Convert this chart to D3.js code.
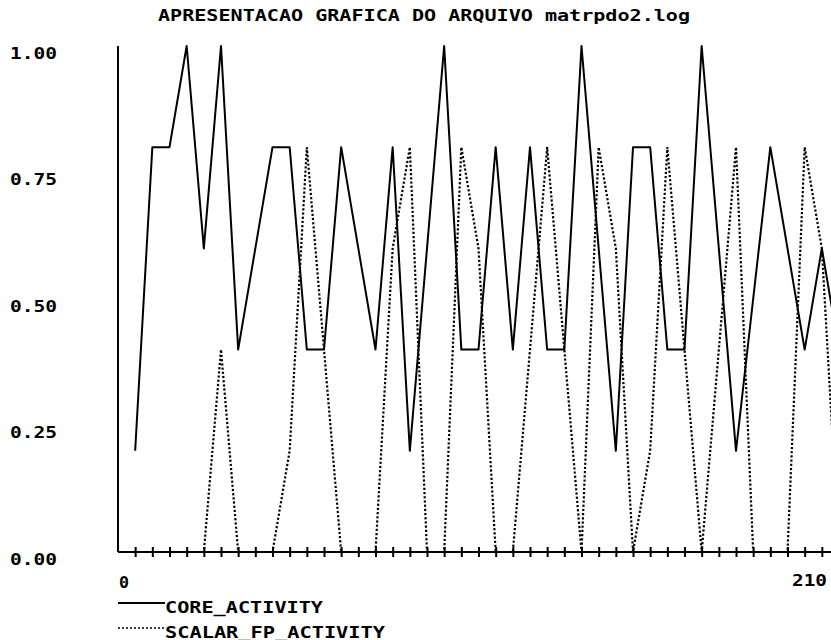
<!DOCTYPE html>
<html lang="pt">
<head>
    <meta charset="UTF-8">
    <title>matrpdo2.log</title>
    <script src="https://d3js.org/d3.v7.min.js"></script>
    <style>
        body { margin: 0; background: #fff; }
        text {
            font-family: "DejaVu Sans Mono", "Liberation Mono", monospace;
            font-weight: bold;
            font-size: 15px;
            fill: #000;
        }
    </style>
</head>
<body>
    <div id="chart"></div>

    <script>
        // sample times (one sample every 5 units)
        var times = [5, 10, 15, 20, 25, 30, 35, 40, 45, 50, 55, 60, 65, 70,
                     75, 80, 85, 90, 95, 100, 105, 110, 115, 120, 125, 130, 135, 140,
                     145, 150, 155, 160, 165, 170, 175, 180, 185, 190, 195, 200, 205, 210];

        var coreActivity = [0.2, 0.8, 0.8, 1.0, 0.6, 1.0, 0.4, 0.6, 0.8, 0.8, 0.4, 0.4, 0.8, 0.6,
                            0.4, 0.8, 0.2, 0.6, 1.0, 0.4, 0.4, 0.8, 0.4, 0.8, 0.4, 0.4, 1.0, 0.6,
                            0.2, 0.8, 0.8, 0.4, 0.4, 1.0, 0.6, 0.2, 0.5, 0.8, 0.6, 0.4, 0.6, 0.4];

        var scalarFpActivity = [0, 0, 0, 0, 0, 0.4, 0, 0, 0, 0.2, 0.8, 0.4, 0, 0,
                                0, 0.6, 0.8, 0, 0, 0.8, 0.6, 0, 0, 0.4, 0.8, 0.4, 0, 0.8,
                                0.6, 0, 0.2, 0.8, 0.4, 0, 0.4, 0.8, 0, 0, 0, 0.8, 0.6, 0];

        var yTicks = [0, 0.25, 0.5, 0.75, 1];
        var yTickLabels = ["0.00", "0.25", "0.50", "0.75", "1.00"];
        var xTickLabels = ["0", "210"];
        var seriesNames = ["CORE_ACTIVITY", "SCALAR_FP_ACTIVITY"];
        var title = "APRESENTACAO GRAFICA DO ARQUIVO matrpdo2.log";

        var width = 831,
            height = 640;

        // the plot runs a little past the right edge of the window, like the original screen dump
        var x = d3.scaleLinear().domain([0, 210]).range([118, 839]);
        var y = d3.scaleLinear().domain([0, 1]).range([552, 46]);

        var svg = d3.select("#chart").append("svg")
            .attr("width", width)
            .attr("height", height);

        // title
        svg.append("text")
            .attr("x", 158)
            .attr("y", 20.5)
            .attr("textLength", 532)
            .attr("lengthAdjust", "spacingAndGlyphs")
            .text(title);

        // y axis: a plain line, labels hang just below their value
        svg.append("line")
            .attr("x1", x(0)).attr("x2", x(0))
            .attr("y1", y(1)).attr("y2", y(0))
            .attr("stroke", "#000")
            .attr("stroke-width", 2);

        svg.selectAll(".ylab")
            .data(yTicks)
            .enter().append("text")
            .attr("class", "ylab")
            .attr("x", 10)
            .attr("y", function(d) { return y(d) + 12.5; })
            .attr("textLength", 47)
            .attr("lengthAdjust", "spacingAndGlyphs")
            .text(function(d, i) { return yTickLabels[i]; });

        // x axis line and the crossing tick marks
        svg.append("line")
            .attr("x1", x(0)).attr("x2", x(210))
            .attr("y1", y(0)).attr("y2", y(0))
            .attr("stroke", "#000")
            .attr("stroke-width", 2);

        var xAxis = svg.append("g")
            .attr("transform", "translate(0," + (y(0) - 5) + ")")
            .call(d3.axisBottom(x).tickValues(times).tickSize(10).tickFormat(""));
        xAxis.select(".domain").remove();
        xAxis.selectAll(".tick line")
            .attr("stroke", "#000")
            .attr("stroke-width", 2);

        svg.append("text")
            .attr("x", x(0) + 1)
            .attr("y", 588)
            .attr("textLength", 10)
            .attr("lengthAdjust", "spacingAndGlyphs")
            .text(xTickLabels[0]);

        svg.append("text")
            .attr("x", x(210) - 47)
            .attr("y", 586)
            .attr("textLength", 35)
            .attr("lengthAdjust", "spacingAndGlyphs")
            .text(xTickLabels[1]);

        // the two series
        var line = d3.line()
            .x(function(d) { return x(d[0]); })
            .y(function(d) { return y(d[1]); });

        svg.append("path")
            .datum(d3.zip(times, scalarFpActivity))
            .attr("fill", "none")
            .attr("stroke", "#000")
            .attr("stroke-width", 2.2)
            .attr("stroke-dasharray", "2.2,2")
            .attr("d", line);

        svg.append("path")
            .datum(d3.zip(times, coreActivity))
            .attr("fill", "none")
            .attr("stroke", "#000")
            .attr("stroke-width", 2)
            .attr("stroke-linejoin", "round")
            .attr("d", line);

        // legend under the axis
        var legendY = [603, 628];
        var legendLen = [158, 220];

        svg.selectAll(".legline")
            .data(seriesNames)
            .enter().append("line")
            .attr("x1", 118).attr("x2", 165)
            .attr("y1", function(d, i) { return legendY[i]; })
            .attr("y2", function(d, i) { return legendY[i]; })
            .attr("stroke", "#000")
            .attr("stroke-width", function(d, i) { return i ? 1.5 : 2; })
            .attr("stroke-dasharray", function(d, i) { return i ? "2,2" : null; });

        svg.selectAll(".legtext")
            .data(seriesNames)
            .enter().append("text")
            .attr("x", 165)
            .attr("y", function(d, i) { return legendY[i] + 9.5; })
            .attr("textLength", function(d, i) { return legendLen[i]; })
            .attr("lengthAdjust", "spacingAndGlyphs")
            .text(function(d) { return d; });
    </script>
</body>
</html>
